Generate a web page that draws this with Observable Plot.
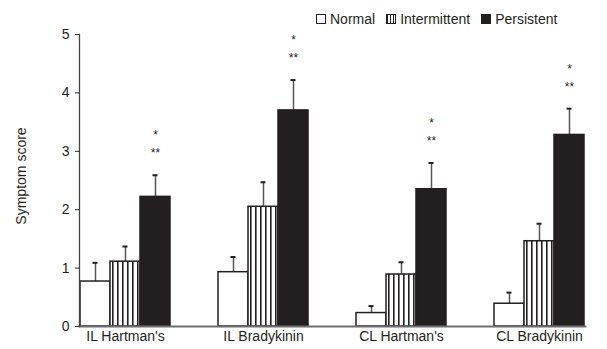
<!DOCTYPE html>
<html>
<head>
<meta charset="utf-8">
<script src="https://cdn.jsdelivr.net/npm/d3@7"></script>
<script src="https://cdn.jsdelivr.net/npm/@observablehq/plot@0.6"></script>
<style>
  html, body { margin: 0; padding: 0; background: #fff; }
  #wrap { position: relative; width: 607px; height: 349px; font-family: "Liberation Sans", Arial, sans-serif; }
  #legend { position: absolute; top: 11px; left: 316px; display: flex; align-items: center; font-size: 14px; color: #231f20; z-index: 2; }
  #legend .item { display: flex; align-items: center; margin-right: 11px; }
  #legend svg { margin-right: 4px; display: block; }
  #ylabel { position: absolute; left: 21px; top: 176px; transform: translate(-50%, -50%) rotate(-90deg); white-space: nowrap; font-size: 14px; color: #231f20; z-index: 2; line-height: 1; }
</style>
</head>
<body>
<div id="wrap">
  <div id="legend"></div>
  <div id="ylabel"></div>
</div>
<script>
const groups = ["IL Hartman's", "IL Bradykinin", "CL Hartman's", "CL Bradykinin"];
const series = ["Normal", "Intermittent", "Persistent"];
const normal = [0.77, 0.93, 0.23, 0.39];
const normalUpper = [1.09, 1.19, 0.35, 0.58];
const intermittent = [1.11, 2.05, 0.89, 1.46];
const intermittentUpper = [1.37, 2.47, 1.10, 1.76];
const persistent = [2.22, 3.70, 2.35, 3.28];
const persistentUpper = [2.59, 4.22, 2.80, 3.73];
const yTicks = [0, 1, 2, 3, 4, 5];
const yLabel = "Symptom score";

const values = [normal, intermittent, persistent];
const uppers = [normalUpper, intermittentUpper, persistentUpper];
const rows = [];
groups.forEach((g, i) => series.forEach((s, j) => rows.push({group: g, series: s, value: values[j][i], upper: uppers[j][i]})));
const sig = rows.filter(d => d.series === "Persistent");

const fills = {Normal: "#ffffff", Intermittent: "url(#stripes)", Persistent: "#231f20"};
const dark = "#231f20";

const chart = Plot.plot({
  width: 607,
  height: 349,
  marginLeft: 53,
  marginRight: 0,
  marginTop: 34,
  marginBottom: 23,
  style: {fontSize: "14px", fontFamily: "Liberation Sans, Arial, sans-serif", color: dark, background: "transparent"},
  fx: {domain: groups, paddingInner: 0.33, paddingOuter: 0.163, align: 0.55, axis: "bottom", tickSize: 0, tickPadding: 5, label: null},
  x: {domain: series, padding: 0, axis: null},
  y: {domain: [0, 5], ticks: yTicks, tickFormat: d3.format("d"), tickSize: 4, tickPadding: 6, label: null},
  marks: [
    Plot.ruleX(rows, {fx: "group", x: "series", y1: "value", y2: "upper", stroke: "#555", strokeWidth: 1.5}),
    Plot.tickY(rows, {fx: "group", x: "series", y: "upper", stroke: dark, strokeWidth: 2, insetLeft: 12.5, insetRight: 12.5}),
    Plot.barY(rows, {fx: "group", x: "series", y: "value", fill: d => fills[d.series], stroke: dark, strokeWidth: 1.5}),
    Plot.text(sig, {fx: "group", x: "series", y: "upper", text: () => "**", dy: -22, fill: dark, fontSize: 12}),
    Plot.text(sig, {fx: "group", x: "series", y: "upper", text: () => "*", dy: -40, fill: dark, fontSize: 12}),
    Plot.frame({anchor: "bottom", facet: "super", stroke: "#6d6d6d", strokeWidth: 1.8}),
    Plot.frame({anchor: "left", facet: "super", stroke: "#444", strokeWidth: 1.3})
  ]
});

// stripe pattern definition
d3.select(chart).insert("defs", ":first-child").html(
  '<pattern id="stripes" patternUnits="userSpaceOnUse" width="5" height="10">' +
  '<rect width="5" height="10" fill="#fff"/>' +
  '<rect x="1" width="1.6" height="10" fill="#231f20"/></pattern>'
);
document.getElementById("wrap").appendChild(chart);
chart.style.position = "absolute";
chart.style.left = "0";
chart.style.top = "0";

d3.select("#ylabel").text(yLabel);

// legend
const legend = d3.select("#legend");
series.forEach(s => {
  const item = legend.append("div").attr("class", "item");
  const sw = item.append("svg").attr("width", 10).attr("height", 10);
  if (s === "Intermittent") {
    sw.append("defs").html('<pattern id="lstripes" patternUnits="userSpaceOnUse" width="3" height="10"><rect width="3" height="10" fill="#fff"/><rect x="1" width="1" height="10" fill="#231f20"/></pattern>');
  }
  sw.append("rect").attr("x", 0.5).attr("y", 0.5).attr("width", 9).attr("height", 9)
    .attr("fill", s === "Intermittent" ? "url(#lstripes)" : fills[s]).attr("stroke", dark).attr("stroke-width", 1);
  item.append("span").text(s);
});
</script>
</body>
</html>
